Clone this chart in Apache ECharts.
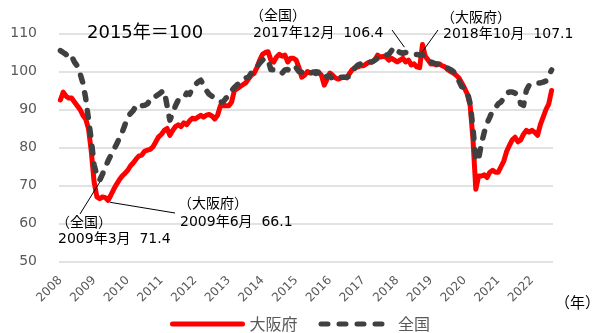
<!DOCTYPE html>
<html>
<head>
<meta charset="utf-8">
<script src="https://cdn.jsdelivr.net/npm/echarts@6/dist/echarts.min.js"></script>
<style>
  html, body { margin: 0; padding: 0; background: #fff; }
  #chart { width: 595px; height: 333px; }
</style>
</head>
<body>
<div id="chart"></div>
<script>
const years = [2008, 2009, 2010, 2011, 2012, 2013, 2014, 2015, 2016, 2017, 2018, 2019, 2020, 2021, 2022];
const lastMonth = 8; // data runs to Aug 2022

// 大阪府 monthly index (2015=100)
const osaka = [
  92.5, 94.6, 93.5, 93, 93, 92, 91, 90, 88.5, 87.5, 85, 79,
  71, 67, 66.5, 67, 66.8, 66.1, 67.5, 69, 70.3, 71.5, 72.5, 73.2,
  74, 75.2, 76, 77, 77.8, 78, 79, 79.3, 79.5, 80.2, 81.5, 82.8,
  83.5, 84.5, 85, 83.2, 84.5, 85.5, 86, 85.5, 86.5, 86, 87, 87.7,
  87.5, 88, 88.5, 88, 88.5, 88.7, 88.3, 87.5, 88.5, 91, 91, 91,
  91, 92, 95, 95.5, 96, 96.5, 97, 98, 99, 99.5, 101, 103,
  104.5, 105, 105.2, 103, 102.5, 103.8, 104.5, 104, 104.3, 102.5, 103.5, 103.5,
  103, 101, 98.5, 99, 100, 99.6, 99.8, 100, 99.8, 99, 96.4, 98,
  99.6, 99, 98.3, 98, 98.3, 98.5, 98.3, 99.5, 100.5, 101, 101.2, 101.5,
  101.5, 102, 102.5, 102.5, 103, 104.3, 103.8, 104, 103.8, 103, 103.5, 103,
  102.5, 103, 103.5, 102.5, 103, 101.7, 102, 101.2, 101, 107.1, 104, 103,
  102, 102, 101.7, 102, 101.5, 101.2, 100.5, 100, 99.6, 99, 98.3, 97,
  95.6, 94, 91, 82, 69, 72.5, 72.5, 72.8, 72.1, 73.5, 74, 73.5,
  73.5, 75, 76.5, 79, 80.6, 82, 82.7, 81.5, 82, 83.5, 84.5, 84,
  84.5, 84, 83.2, 86, 88, 90, 91.5, 95
];

// 全国 monthly index (2015=100)
const zenkoku = [
  105.5, 105, 104.5, 103.5, 104, 102.5, 101.5, 99.5, 97, 93, 87.5, 82,
  75.5, 72.5, 71.4, 73, 74.8, 76.5, 78, 79.5, 80.8, 82.5, 84, 86,
  88, 89, 89.8, 91, 90.5, 91, 91.1, 91.5, 92.5, 92.5, 93.5, 94,
  94.6, 95, 91, 87.2, 89, 91, 92.5, 93, 93, 94.3, 94, 95.5,
  96.5, 97.2, 97.7, 96.5, 95, 94, 93.5, 93, 92.5, 92, 92, 93,
  93.5, 95, 95.8, 96.5, 97.2, 97.5, 98.3, 98.5, 99.6, 100.5, 101.2, 102.2,
  103, 103.5, 103, 100.5, 100.4, 99.8, 100, 99.6, 100.4, 100.5, 100, 100,
  101, 100, 99.8, 100, 99.5, 99.6, 99.8, 99.5, 99.8, 100, 99.8, 98.5,
  99, 98, 98.5, 98.5, 98.5, 98.5, 98.5, 98.8, 100, 101, 101.7, 102,
  102, 102.2, 102.5, 102.5, 103, 103.5, 103.5, 104, 104.3, 104.5, 105.5, 106.4,
  105.5, 105, 104.8, 105, 104.8, 104.8, 104.5, 104.5, 104.3, 104.5, 103.5, 103,
  102.5, 102.2, 102, 102, 101.7, 101.5, 100.9, 100.5, 100, 99.2, 97.5, 96,
  95.6, 94.5, 91.5, 85, 76.5, 77, 81, 84, 86.4, 88, 89.8, 90.5,
  91.5, 92, 93, 94.3, 94.6, 94.6, 94.3, 93.8, 91.5, 91.1, 95, 96.4,
  96.5, 96.9, 97, 97, 97.2, 97.5, 99, 100.4
];

// callouts: [series, year, month, bracket, text]
const callouts = [
  ['全国', 2017, 12, '（全国）', '2017年12月  106.4'],
  ['大阪府', 2018, 10, '（大阪府）', '2018年10月  107.1'],
  ['全国', 2009, 3, '（全国）', '2009年3月  71.4'],
  ['大阪府', 2009, 6, '（大阪府）', '2009年6月  66.1']
];

const months = [];
years.forEach(y => {
  const n = y === years[years.length - 1] ? lastMonth : 12;
  for (let m = 1; m <= n; m++) months.push(y + '/' + m);
});

const FONT = '"DejaVu Sans", "Noto Sans CJK JP", sans-serif';
const JP = '"Noto Sans CJK JP", sans-serif';
const chart = echarts.init(document.getElementById('chart'), null, { renderer: 'canvas' });

chart.setOption({
  animation: false,
  backgroundColor: '#fff',
  grid: { left: 59, right: 42, top: 33.5, bottom: 71.5 },
  xAxis: {
    type: 'category',
    data: months,
    boundaryGap: true,
    axisLine: { show: false },
    axisTick: { show: false },
    splitLine: { show: false },
    axisLabel: {
      interval: (i, v) => v.endsWith('/1'),
      formatter: v => v.split('/')[0],
      rotate: 45,
      margin: 17,
      fontSize: 12,
      fontFamily: FONT,
      color: '#595959'
    }
  },
  yAxis: {
    type: 'value',
    min: 50,
    max: 110,
    interval: 10,
    axisLine: { show: false },
    axisTick: { show: false },
    splitLine: { lineStyle: { color: '#d9d9d9', width: 1.5 } },
    axisLabel: { margin: 22, fontSize: 14, fontFamily: FONT, color: '#595959' }
  },
  legend: {
    left: 170,
    top: 316,
    padding: 0,
    itemWidth: 70,
    itemHeight: 14,
    itemGap: 21,
    itemStyle: { opacity: 0 },
    lineStyle: { width: 5 },
    textStyle: { fontSize: 16, fontFamily: JP, color: '#595959', padding: [0, 0, 0, 2] },
    data: ['大阪府', '全国']
  },
  series: [
    {
      name: '大阪府',
      type: 'line',
      data: osaka,
      symbol: 'none',
      z: 2,
      lineStyle: { color: '#ff0000', width: 5, join: 'round', cap: 'round' },
      itemStyle: { color: '#ff0000' }
    },
    {
      name: '全国',
      type: 'line',
      data: zenkoku,
      symbol: 'none',
      z: 3,
      lineStyle: { color: '#404040', width: 5.5, type: [7, 11], cap: 'round', join: 'round' },
      itemStyle: { color: '#404040' }
    }
  ]
});

// text positions of the callouts (bracket x, value x, lines y, leader line end)
const calloutPos = [
  { bx: 250, x: 253, y1: 15, y2: 33, end: [392, 30], off: [10, 0] },
  { bx: 441, x: 443, y1: 17, y2: 34, end: [438, 30], off: [0, 7] },
  { bx: 56, x: 58, y1: 222, y2: 239, end: [80, 214], off: [0, 2] },
  { bx: 178, x: 180, y1: 203, y2: 222, end: [175, 213], off: [2, 2] }
];

const graphics = [
  { type: 'text', x: 87, y: 33, style: { text: '2015年＝100', font: '18px ' + FONT, fill: '#000', verticalAlign: 'middle' } },
  { type: 'text', x: 555, y: 302, style: { text: '（年）', font: '15px ' + JP, fill: '#000', verticalAlign: 'middle' } }
];

callouts.forEach((c, i) => {
  const p = calloutPos[i];
  const idx = months.indexOf(c[1] + '/' + c[2]);
  const val = (c[0] === '全国' ? zenkoku : osaka)[idx];
  const pt = chart.convertToPixel({ gridIndex: 0 }, [idx, val]);
  graphics.push({ type: 'text', x: p.bx, y: p.y1, style: { text: c[3], font: '14px ' + JP, fill: '#000', verticalAlign: 'middle' } });
  graphics.push({ type: 'text', x: p.x, y: p.y2, style: { text: c[4], font: '14px ' + FONT, fill: '#000', verticalAlign: 'middle' } });
  graphics.push({
    type: 'line', z: 10,
    shape: { x1: pt[0] + p.off[0], y1: pt[1] + p.off[1], x2: p.end[0], y2: p.end[1] },
    style: { stroke: '#000', lineWidth: 1 }
  });
});

chart.setOption({ graphic: graphics });
</script>
</body>
</html>
